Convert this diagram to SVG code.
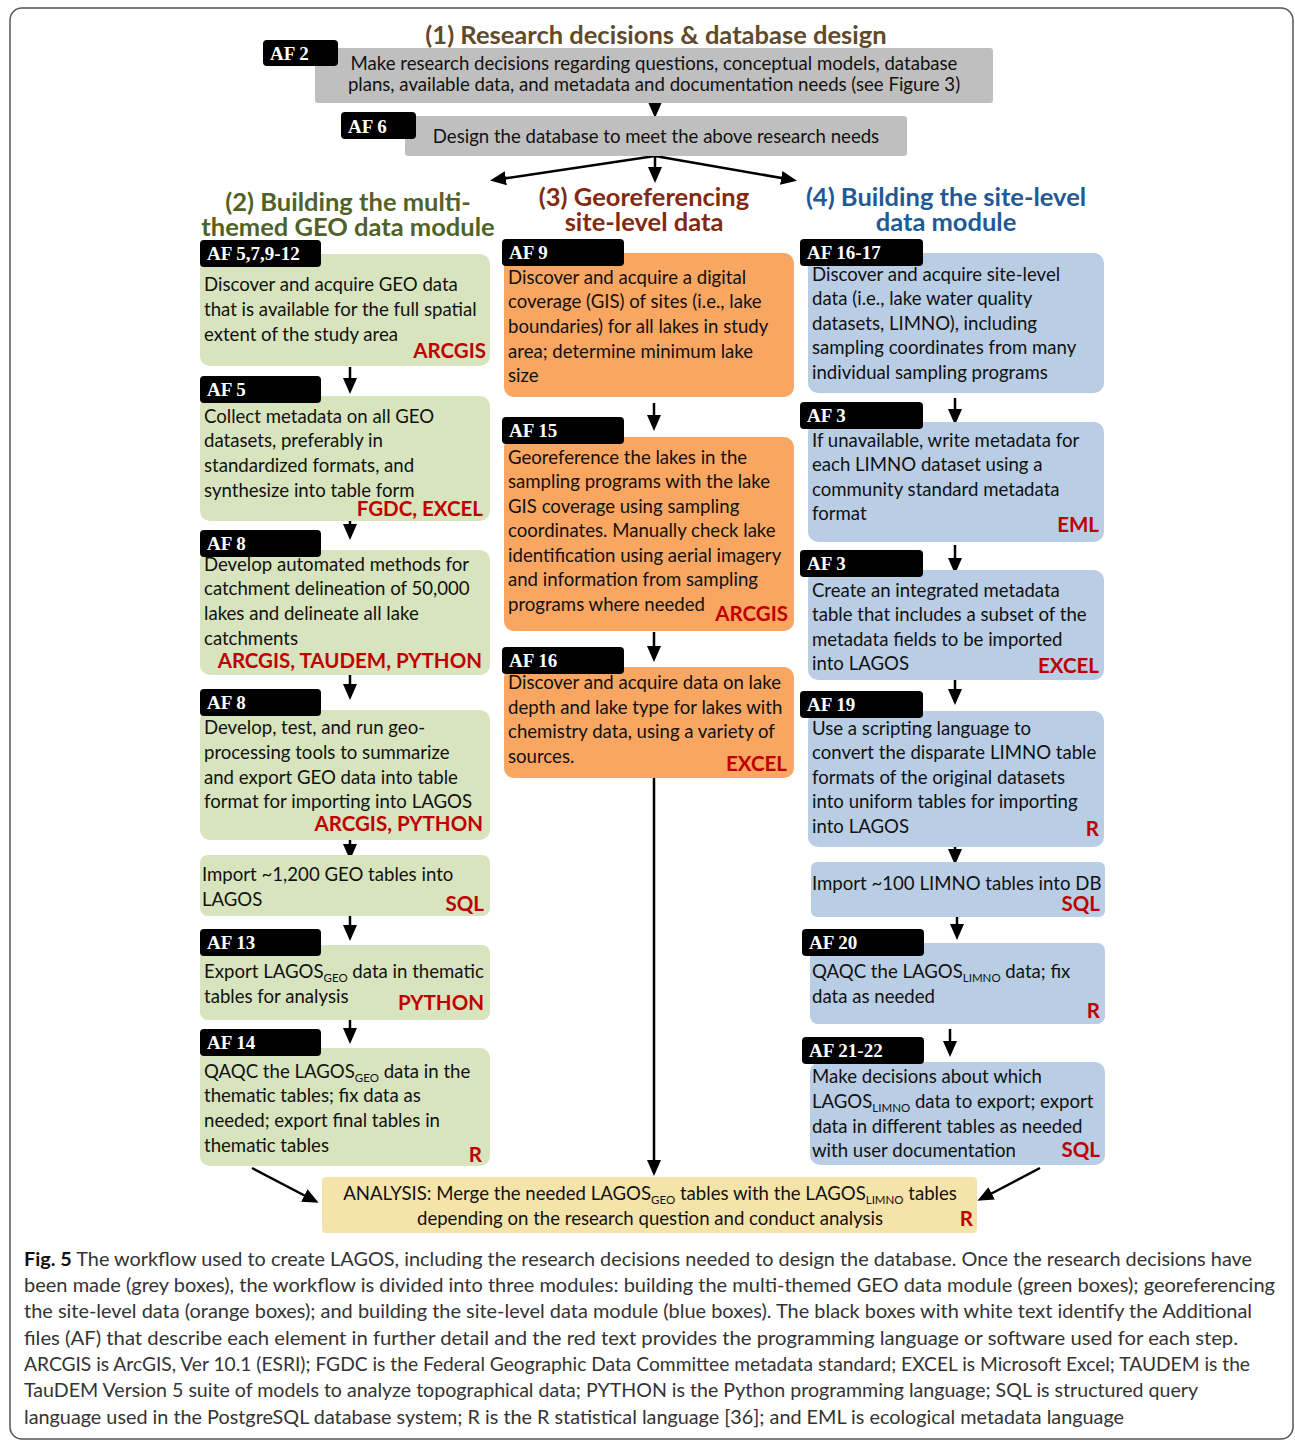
<svg xmlns="http://www.w3.org/2000/svg" width="1295" height="1441" viewBox="0 0 1295 1441">
<style>
.t{font-family:Lato,"Liberation Sans",sans-serif;font-size:18.6px;fill:#111}
.red{font-family:Lato,"Liberation Sans",sans-serif;font-size:20.5px;font-weight:bold;fill:#c00000;text-anchor:end}
.af{font-family:"Liberation Serif",serif;font-weight:bold;font-size:19px;fill:#fff}
.afb{fill:#000}
.hd{font-family:Lato,"Liberation Sans",sans-serif;font-weight:bold;font-size:25.5px;text-anchor:middle}
.g{fill:#d7e4bd}
.o{fill:#f9a662}
.b{fill:#b9cde5}
.gr{fill:#bfbfbf}
.cap{font-family:Lato,"Liberation Sans",sans-serif;font-size:19px;fill:#333}
.c{stroke:#000;stroke-width:2.5;fill:none;marker-end:url(#ah)}
.sub{font-size:11.5px}
</style>
<defs>
<marker id="ah" markerWidth="16" markerHeight="14" refX="12" refY="7" orient="auto" markerUnits="userSpaceOnUse"><path d="M0,0 L16,7 L0,14 z" fill="#000"/></marker>
</defs>
<rect x="10" y="8" width="1283" height="1431" rx="12" fill="#fff" stroke="#555" stroke-width="1.5"/>

<text class="hd" x="656" y="44" fill="#604a2b">(1) Research decisions &amp; database design</text>
<text class="hd" x="348" y="211" fill="#4f6228">(2) Building the multi-</text>
<text class="hd" x="348" y="236" fill="#4f6228">themed GEO data module</text>
<text class="hd" x="644" y="206" fill="#84290f">(3) Georeferencing</text>
<text class="hd" x="644" y="231" fill="#84290f">site-level data</text>
<text class="hd" x="946" y="206" fill="#1f5a96">(4) Building the site-level</text>
<text class="hd" x="946" y="231" fill="#1f5a96">data module</text>

<g id="connectors">
<line class="c" x1="655" y1="95" x2="655" y2="114"/>
<line class="c" x1="655" y1="156" x2="494" y2="180"/>
<line class="c" x1="655" y1="156" x2="655" y2="179"/>
<line class="c" x1="655" y1="156" x2="793" y2="180"/>
<line class="c" x1="350" y1="367" x2="350" y2="390"/>
<line class="c" x1="350" y1="508" x2="350" y2="536"/>
<line class="c" x1="350" y1="673" x2="350" y2="696"/>
<line class="c" x1="350" y1="832" x2="350" y2="856"/>
<line class="c" x1="350" y1="913" x2="350" y2="937"/>
<line class="c" x1="350" y1="1020" x2="350" y2="1040"/>
<line class="c" x1="654" y1="403" x2="654" y2="427"/>
<line class="c" x1="654" y1="632" x2="654" y2="658"/>
<line class="c" x1="654" y1="767" x2="654" y2="1172"/>
<line class="c" x1="955" y1="398" x2="955" y2="421"/>
<line class="c" x1="955" y1="545" x2="955" y2="570"/>
<line class="c" x1="955" y1="677" x2="955" y2="701"/>
<line class="c" x1="955" y1="838" x2="955" y2="861"/>
<line class="c" x1="957" y1="913" x2="957" y2="936"/>
<line class="c" x1="950" y1="1029" x2="950" y2="1053"/>
<line class="c" x1="252" y1="1168" x2="315" y2="1201"/>
<line class="c" x1="1040" y1="1168" x2="981" y2="1199"/>
</g>

<g id="n-af2">
<rect class="gr" x="315" y="48" width="678" height="55" rx="3"/>
<rect class="afb" x="263" y="40" width="75" height="26" rx="4"/>
<text class="af" x="270" y="60">AF 2</text>
<text class="t" x="654" y="70" text-anchor="middle">Make research decisions regarding questions, conceptual models, database</text>
<text class="t" x="654" y="91" text-anchor="middle">plans, available data, and metadata and documentation needs (see Figure 3)</text>
</g>
<g id="n-af6">
<rect class="gr" x="405" y="116" width="502" height="40" rx="3"/>
<rect class="afb" x="341" y="112" width="75" height="27" rx="4"/>
<text class="af" x="348" y="133">AF 6</text>
<text class="t" x="656" y="143" text-anchor="middle">Design the database to meet the above research needs</text>
</g>

<g id="n-g1">
<rect class="g" x="200" y="254" width="290" height="112" rx="10"/>
<rect class="afb" x="200" y="240" width="121" height="27" rx="4"/>
<text class="af" x="207" y="260">AF 5,7,9-12</text>
<text class="t" x="204" y="291">Discover and acquire GEO data</text>
<text class="t" x="204" y="316">that is available for the full spatial</text>
<text class="t" x="204" y="341">extent of the study area</text>
<text class="red" x="486" y="358">ARCGIS</text>
</g>
<g id="n-g2">
<rect class="g" x="200" y="396" width="290" height="125" rx="10"/>
<rect class="afb" x="200" y="376" width="121" height="27" rx="4"/>
<text class="af" x="207" y="396">AF 5</text>
<text class="t" x="204" y="423">Collect metadata on all GEO</text>
<text class="t" x="204" y="447">datasets, preferably in</text>
<text class="t" x="204" y="472">standardized formats, and</text>
<text class="t" x="204" y="497">synthesize into table form</text>
<text class="red" x="483" y="516">FGDC, EXCEL</text>
</g>
<g id="n-g3">
<rect class="g" x="200" y="550" width="290" height="125" rx="10"/>
<rect class="afb" x="200" y="530" width="121" height="27" rx="4"/>
<text class="af" x="207" y="550">AF 8</text>
<text class="t" x="204" y="571">Develop automated methods for</text>
<text class="t" x="204" y="595">catchment delineation of 50,000</text>
<text class="t" x="204" y="620">lakes and delineate all lake</text>
<text class="t" x="204" y="645">catchments</text>
<text class="red" x="482" y="668">ARCGIS, TAUDEM, PYTHON</text>
</g>
<g id="n-g4">
<rect class="g" x="200" y="710" width="290" height="130" rx="10"/>
<rect class="afb" x="200" y="689" width="121" height="27" rx="4"/>
<text class="af" x="207" y="709">AF 8</text>
<text class="t" x="204" y="734">Develop, test, and run geo-</text>
<text class="t" x="204" y="759">processing tools to summarize</text>
<text class="t" x="204" y="784">and export GEO data into table</text>
<text class="t" x="204" y="808">format for importing into LAGOS</text>
<text class="red" x="483" y="831">ARCGIS, PYTHON</text>
</g>
<g id="n-g5">
<rect class="g" x="200" y="855" width="290" height="61" rx="8"/>
<text class="t" x="202" y="881">Import ~1,200 GEO tables into</text>
<text class="t" x="202" y="906">LAGOS</text>
<text class="red" x="484" y="911">SQL</text>
</g>
<g id="n-g6">
<rect class="g" x="200" y="945" width="290" height="75" rx="8"/>
<rect class="afb" x="200" y="929" width="121" height="27" rx="4"/>
<text class="af" x="207" y="949">AF 13</text>
<text class="t" x="204" y="978">Export LAGOS<tspan class="sub" dy="4">GEO</tspan><tspan dy="-4"> data in thematic</tspan></text>
<text class="t" x="204" y="1003">tables for analysis</text>
<text class="red" x="484" y="1010">PYTHON</text>
</g>
<g id="n-g7">
<rect class="g" x="200" y="1048" width="290" height="118" rx="10"/>
<rect class="afb" x="200" y="1029" width="121" height="27" rx="4"/>
<text class="af" x="207" y="1049">AF 14</text>
<text class="t" x="204" y="1078">QAQC the LAGOS<tspan class="sub" dy="4">GEO</tspan><tspan dy="-4"> data in the</tspan></text>
<text class="t" x="204" y="1102">thematic tables; fix data as</text>
<text class="t" x="204" y="1127">needed; export final tables in</text>
<text class="t" x="204" y="1152">thematic tables</text>
<text class="red" x="482" y="1162">R</text>
</g>

<g id="n-o1">
<rect class="o" x="504" y="253" width="290" height="144" rx="10"/>
<rect class="afb" x="502" y="239" width="122" height="27" rx="4"/>
<text class="af" x="509" y="259">AF 9</text>
<text class="t" x="508" y="284">Discover and acquire a digital</text>
<text class="t" x="508" y="308">coverage (GIS) of sites (i.e., lake</text>
<text class="t" x="508" y="333">boundaries) for all lakes in study</text>
<text class="t" x="508" y="358">area; determine minimum lake</text>
<text class="t" x="508" y="382">size</text>
</g>
<g id="n-o2">
<rect class="o" x="504" y="437" width="290" height="194" rx="10"/>
<rect class="afb" x="502" y="417" width="122" height="27" rx="4"/>
<text class="af" x="509" y="437">AF 15</text>
<text class="t" x="508" y="464">Georeference the lakes in the</text>
<text class="t" x="508" y="488">sampling programs with the lake</text>
<text class="t" x="508" y="513">GIS coverage using sampling</text>
<text class="t" x="508" y="537">coordinates. Manually check lake</text>
<text class="t" x="508" y="562">identification using aerial imagery</text>
<text class="t" x="508" y="586">and information from sampling</text>
<text class="t" x="508" y="611">programs where needed</text>
<text class="red" x="788" y="621">ARCGIS</text>
</g>
<g id="n-o3">
<rect class="o" x="504" y="667" width="290" height="111" rx="10"/>
<rect class="afb" x="502" y="647" width="122" height="27" rx="4"/>
<text class="af" x="509" y="667">AF 16</text>
<text class="t" x="508" y="689">Discover and acquire data on lake</text>
<text class="t" x="508" y="714">depth and lake type for lakes with</text>
<text class="t" x="508" y="738">chemistry data, using a variety of</text>
<text class="t" x="508" y="763">sources.</text>
<text class="red" x="787" y="771">EXCEL</text>
</g>

<g id="n-b1">
<rect class="b" x="808" y="253" width="296" height="140" rx="10"/>
<rect class="afb" x="800" y="239" width="123" height="27" rx="4"/>
<text class="af" x="807" y="259">AF 16-17</text>
<text class="t" x="812" y="281">Discover and acquire site-level</text>
<text class="t" x="812" y="305">data (i.e., lake water quality</text>
<text class="t" x="812" y="330">datasets, LIMNO), including</text>
<text class="t" x="812" y="354">sampling coordinates from many</text>
<text class="t" x="812" y="379">individual sampling programs</text>
</g>
<g id="n-b2">
<rect class="b" x="808" y="422" width="296" height="120" rx="10"/>
<rect class="afb" x="800" y="402" width="123" height="27" rx="4"/>
<text class="af" x="807" y="422">AF 3</text>
<text class="t" x="812" y="447">If unavailable, write metadata for</text>
<text class="t" x="812" y="471">each LIMNO dataset using a</text>
<text class="t" x="812" y="496">community standard metadata</text>
<text class="t" x="812" y="520">format</text>
<text class="red" x="1099" y="532">EML</text>
</g>
<g id="n-b3">
<rect class="b" x="808" y="570" width="296" height="110" rx="10"/>
<rect class="afb" x="800" y="550" width="123" height="27" rx="4"/>
<text class="af" x="807" y="570">AF 3</text>
<text class="t" x="812" y="597">Create an integrated metadata</text>
<text class="t" x="812" y="621">table that includes a subset of the</text>
<text class="t" x="812" y="646">metadata fields to be imported</text>
<text class="t" x="812" y="670">into LAGOS</text>
<text class="red" x="1099" y="673">EXCEL</text>
</g>
<g id="n-b4">
<rect class="b" x="808" y="711" width="296" height="136" rx="10"/>
<rect class="afb" x="800" y="691" width="123" height="27" rx="4"/>
<text class="af" x="807" y="711">AF 19</text>
<text class="t" x="812" y="735">Use a scripting language to</text>
<text class="t" x="812" y="759">convert the disparate LIMNO table</text>
<text class="t" x="812" y="784">formats of the original datasets</text>
<text class="t" x="812" y="808">into uniform tables for importing</text>
<text class="t" x="812" y="833">into LAGOS</text>
<text class="red" x="1099" y="836">R</text>
</g>
<g id="n-b5">
<rect class="b" x="811" y="862" width="294" height="55" rx="6"/>
<text class="t" x="812" y="890">Import ~100 LIMNO tables into DB</text>
<text class="red" x="1100" y="911">SQL</text>
</g>
<g id="n-b6">
<rect class="b" x="810" y="943" width="295" height="81" rx="8"/>
<rect class="afb" x="802" y="929" width="122" height="27" rx="4"/>
<text class="af" x="809" y="949">AF 20</text>
<text class="t" x="812" y="978">QAQC the LAGOS<tspan class="sub" dy="4">LIMNO</tspan><tspan dy="-4"> data; fix</tspan></text>
<text class="t" x="812" y="1003">data as needed</text>
<text class="red" x="1100" y="1018">R</text>
</g>
<g id="n-b7">
<rect class="b" x="810" y="1062" width="295" height="103" rx="10"/>
<rect class="afb" x="802" y="1037" width="122" height="27" rx="4"/>
<text class="af" x="809" y="1057">AF 21-22</text>
<text class="t" x="812" y="1083">Make decisions about which</text>
<text class="t" x="812" y="1108">LAGOS<tspan class="sub" dy="4">LIMNO</tspan><tspan dy="-4"> data to export; export</tspan></text>
<text class="t" x="812" y="1133">data in different tables as needed</text>
<text class="t" x="812" y="1157">with user documentation</text>
<text class="red" x="1100" y="1157">SQL</text>
</g>

<g id="n-analysis">
<rect x="322" y="1177" width="655" height="56" rx="4" fill="#f5e4aa"/>
<text class="t" x="650" y="1200" text-anchor="middle">ANALYSIS: Merge the needed LAGOS<tspan class="sub" dy="4">GEO</tspan><tspan dy="-4"> tables with the LAGOS</tspan><tspan class="sub" dy="4">LIMNO</tspan><tspan dy="-4"> tables</tspan></text>
<text class="t" x="650" y="1225" text-anchor="middle">depending on the research question and conduct analysis</text>
<text class="red" x="973" y="1226">R</text>
</g>

<g id="caption">
<text class="cap" x="24" y="1266" textLength="1228" lengthAdjust="spacingAndGlyphs"><tspan font-weight="bold" fill="#111">Fig. 5</tspan> The workflow used to create LAGOS, including the research decisions needed to design the database. Once the research decisions have</text>
<text class="cap" x="24" y="1292" textLength="1251" lengthAdjust="spacingAndGlyphs">been made (grey boxes), the workflow is divided into three modules: building the multi-themed GEO data module (green boxes); georeferencing</text>
<text class="cap" x="24" y="1318" textLength="1228" lengthAdjust="spacingAndGlyphs">the site-level data (orange boxes); and building the site-level data module (blue boxes). The black boxes with white text identify the Additional</text>
<text class="cap" x="24" y="1345" textLength="1214" lengthAdjust="spacingAndGlyphs">files (AF) that describe each element in further detail and the red text provides the programming language or software used for each step.</text>
<text class="cap" x="24" y="1371" textLength="1226" lengthAdjust="spacingAndGlyphs">ARCGIS is ArcGIS, Ver 10.1 (ESRI); FGDC is the Federal Geographic Data Committee metadata standard; EXCEL is Microsoft Excel; TAUDEM is the</text>
<text class="cap" x="24" y="1397" textLength="1174" lengthAdjust="spacingAndGlyphs">TauDEM Version 5 suite of models to analyze topographical data; PYTHON is the Python programming language; SQL is structured query</text>
<text class="cap" x="24" y="1424" textLength="1100" lengthAdjust="spacingAndGlyphs">language used in the PostgreSQL database system; R is the R statistical language [36]; and EML is ecological metadata language</text>
</g>
</svg>
